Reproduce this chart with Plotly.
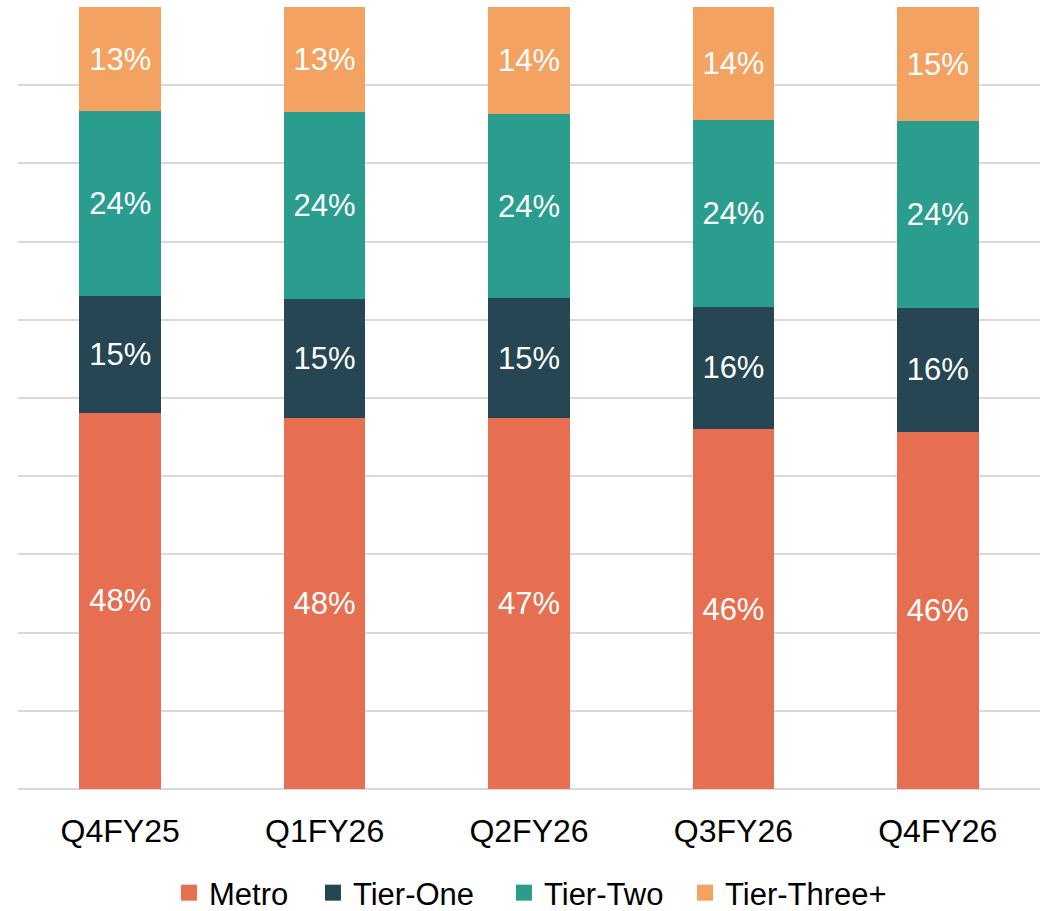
import plotly.graph_objects as go

quarters = ["Q4FY25", "Q1FY26", "Q2FY26", "Q3FY26", "Q4FY26"]
metro = [48.1, 47.5, 47.4, 46.0, 45.7]
tier_one = [14.9, 15.2, 15.4, 15.7, 15.8]
tier_two = [23.7, 23.9, 23.5, 23.9, 23.9]
tier_three = [13.3, 13.4, 13.7, 14.4, 14.6]

series = [
    ("Metro", metro, "#E76F51"),
    ("Tier-One", tier_one, "#264653"),
    ("Tier-Two", tier_two, "#2A9D8F"),
    ("Tier-Three+", tier_three, "#F4A261"),
]

fig = go.Figure()

for name, vals, color in series:
    fig.add_trace(
        go.Bar(
            x=quarters,
            y=vals,
            name=name,
            showlegend=False,
            marker=dict(color=color, line=dict(width=0)),
            texttemplate="%{y:.0f}%",
            textposition="inside",
            insidetextanchor="middle",
            textangle=0,
            constraintext="none",
            textfont=dict(color="white", size=31),
        )
    )

# one small legend per series so the entries can be spread like the original
legend_ids = ["legend", "legend2", "legend3", "legend4"]
legend_x = [0.1477, 0.2886, 0.4755, 0.6527]

for (name, vals, color), lid in zip(series, legend_ids):
    fig.add_trace(
        go.Scatter(
            x=[None],
            y=[None],
            mode="markers",
            name=name,
            legend=lid,
            marker=dict(symbol="square", size=18, color=color),
        )
    )

legend_style = dict(
    orientation="h",
    xanchor="left",
    y=-0.133,
    yanchor="middle",
    font=dict(size=31),
    bgcolor="rgba(0,0,0,0)",
)

fig.update_layout(
    barmode="stack",
    bargap=0.6,
    width=1050,
    height=911,
    plot_bgcolor="white",
    paper_bgcolor="white",
    font=dict(family="Liberation Sans, Arial", size=32, color="black"),
    margin=dict(l=18, r=10, t=7, b=122, autoexpand=False),
    showlegend=True,
    legend=dict(x=legend_x[0], **legend_style),
    legend2=dict(x=legend_x[1], **legend_style),
    legend3=dict(x=legend_x[2], **legend_style),
    legend4=dict(x=legend_x[3], **legend_style),
)

fig.update_xaxes(
    showgrid=False,
    showline=False,
    ticks="",
    ticklabelstandoff=20,
    tickfont=dict(size=32),
)

fig.update_yaxes(
    range=[0, 100],
    dtick=10,
    showticklabels=False,
    gridcolor="#D9D9D9",
    gridwidth=1.5,
    zeroline=True,
    zerolinecolor="#D9D9D9",
    zerolinewidth=1.5,
    showline=False,
)

fig.write_html(
    "out.html",
    config={"displayModeBar": False},
    post_script="document.body.style.margin='0';",
)
